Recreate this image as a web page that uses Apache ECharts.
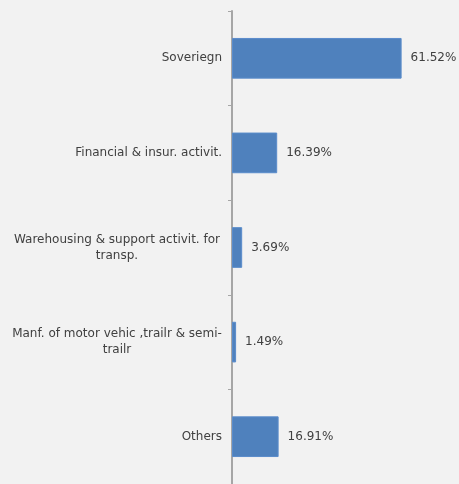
<!DOCTYPE html>
<html>
<head>
<meta charset="utf-8">
<script src="https://cdn.jsdelivr.net/npm/echarts@6/dist/echarts.min.js"></script>
<style>
  html, body { margin: 0; padding: 0; background: #f2f2f2; }
  #chart { width: 459px; height: 484px; }
</style>
</head>
<body>
<div id="chart"></div>
<script>
// Sector breakdown, top to bottom
const categories = [
  "Soveriegn",
  "Financial & insur. activit.",
  "Warehousing & support activit. for\ntransp.",
  "Manf. of motor vehic ,trailr & semi-\ntrailr",
  "Others"
];
const shares = [61.52, 16.39, 3.69, 1.49, 16.91];

const FONT = "DejaVu Sans";
const TEXT = "#404040";

const chart = echarts.init(document.getElementById("chart"));
chart.setOption({
  backgroundColor: "#f2f2f2",
  animation: false,
  grid: { left: 232, top: 11, width: 193, height: 477, containLabel: false },
  xAxis: {
    type: "value",
    min: 0,
    max: 70,
    show: false
  },
  yAxis: {
    type: "category",
    data: categories,
    inverse: true,
    axisLine: { show: true, lineStyle: { color: "#a6a6a6", width: 2 } },
    axisTick: { show: true, length: 4, alignWithLabel: false, lineStyle: { color: "#a6a6a6", width: 1 } },
    axisLabel: {
      margin: 10,
      color: TEXT,
      fontFamily: FONT,
      fontSize: 12,
      lineHeight: 16,
      formatter: function (v) {
        if (v.indexOf("\n") < 0) return v;
        return v.split("\n").map(function (s) { return "{w|" + s + "}"; }).join("\n");
      },
      rich: {
        w: { width: 210, align: "center", color: TEXT, fontFamily: FONT, fontSize: 12, lineHeight: 16 }
      }
    },
    splitLine: { show: false }
  },
  series: [{
    type: "bar",
    data: shares,
    barCategoryGap: "57%",
    itemStyle: { color: "#4f81bd", borderColor: "#5a8ccb", borderWidth: 1 },
    label: {
      show: true,
      position: "right",
      distance: 9,
      color: TEXT,
      fontFamily: FONT,
      fontSize: 12,
      formatter: function (p) { return p.value.toFixed(2) + "%"; }
    }
  }]
});
</script>
</body>
</html>
